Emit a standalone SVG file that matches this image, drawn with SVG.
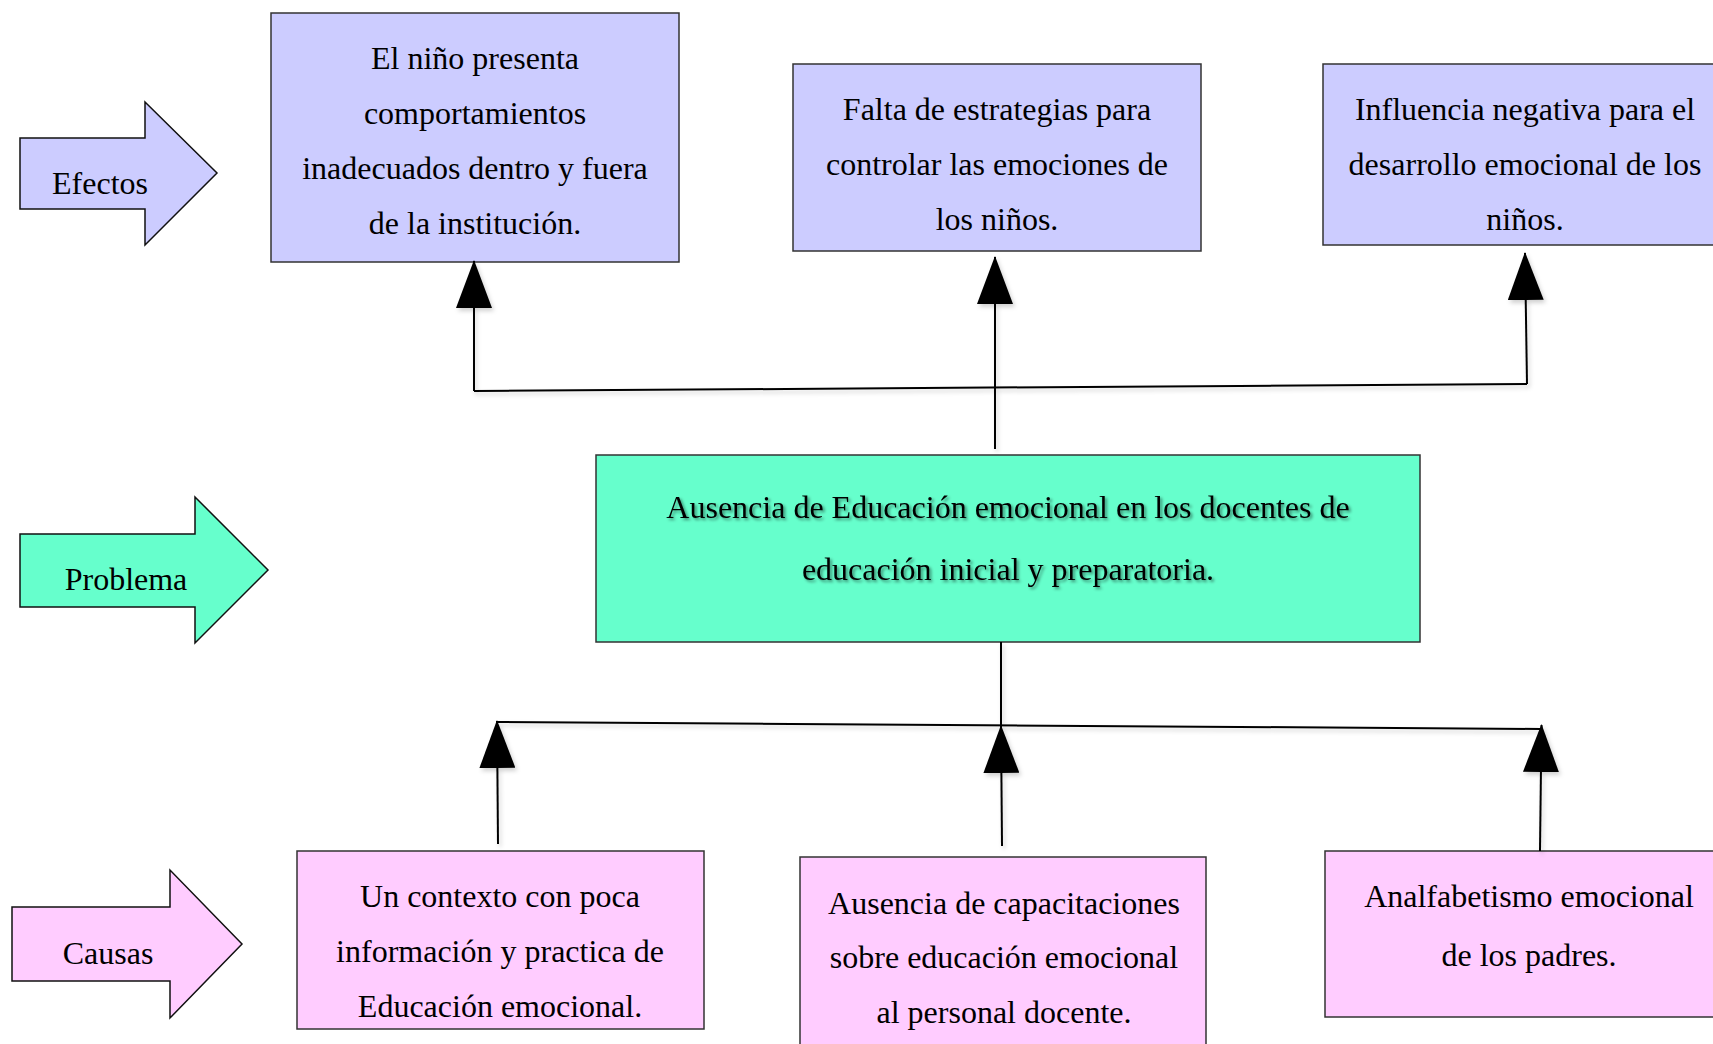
<svg xmlns="http://www.w3.org/2000/svg" width="1713" height="1044" viewBox="0 0 1713 1044">
<style>
  text { font-family: "Liberation Serif", "Times New Roman", serif; font-size: 32px; fill: #000; text-anchor: middle; }
  .box { stroke: #333; stroke-width: 1.5; }
  .ef { fill: #ccccff; }
  .pr { fill: #66ffcc; }
  .ca { fill: #ffccff; }
  .arrowshape { stroke: #111; stroke-width: 1.5; }
  .conn { fill: none; stroke: #000; stroke-width: 2; }
</style>
<defs>
  <filter id="lineShadow" x="-10%" y="-10%" width="120%" height="130%">
    <feDropShadow dx="2" dy="3" stdDeviation="2" flood-color="#000" flood-opacity="0.18"/>
  </filter>
  <filter id="textShadow" x="-5%" y="-20%" width="110%" height="150%">
    <feDropShadow dx="2" dy="2" stdDeviation="1.5" flood-color="#000" flood-opacity="0.45"/>
  </filter>
  <marker id="head" markerUnits="userSpaceOnUse" markerWidth="48" markerHeight="36" viewBox="0 0 48 36" refX="47" refY="18" orient="auto">
    <path d="M0,0 L48,18 L0,36 Z" fill="#000"/>
  </marker>
</defs>

<g id="label-efectos">
  <polygon class="arrowshape ef" points="20,138 145,138 145,102 217,173 145,245 145,209 20,209"/>
  <text x="100" y="194">Efectos</text>
</g>
<g id="label-problema">
  <polygon class="arrowshape pr" points="20,534 195,534 195,497 268,570 195,643 195,607 20,607"/>
  <text x="126" y="590">Problema</text>
</g>
<g id="label-causas">
  <polygon class="arrowshape ca" points="12,907 170,907 170,870 242,944 170,1018 170,981 12,981"/>
  <text x="108" y="964">Causas</text>
</g>

<g id="efecto-1">
  <rect class="box ef" x="271" y="13" width="408" height="249"/>
  <text x="475" y="69">El niño presenta</text>
  <text x="475" y="124">comportamientos</text>
  <text x="475" y="179">inadecuados dentro y fuera</text>
  <text x="475" y="234">de la institución.</text>
</g>
<g id="efecto-2">
  <rect class="box ef" x="793" y="64" width="408" height="187"/>
  <text x="997" y="120">Falta de estrategias para</text>
  <text x="997" y="175">controlar las emociones de</text>
  <text x="997" y="230">los niños.</text>
</g>
<g id="efecto-3">
  <rect class="box ef" x="1323" y="64" width="408" height="181"/>
  <text x="1525" y="120">Influencia negativa para el</text>
  <text x="1525" y="175">desarrollo emocional de los</text>
  <text x="1525" y="230">niños.</text>
</g>

<g id="problema">
  <rect class="box pr" x="596" y="455" width="824" height="187"/>
  <g filter="url(#textShadow)">
    <text x="1008" y="518">Ausencia de Educación emocional en los docentes de</text>
    <text x="1008" y="580">educación inicial y preparatoria.</text>
  </g>
</g>

<g id="causa-1">
  <rect class="box ca" x="297" y="851" width="407" height="178"/>
  <text x="500" y="907">Un contexto con poca</text>
  <text x="500" y="962">información y practica de</text>
  <text x="500" y="1017">Educación emocional.</text>
</g>
<g id="causa-2">
  <rect class="box ca" x="800" y="857" width="406" height="200"/>
  <text x="1004" y="914">Ausencia de capacitaciones</text>
  <text x="1004" y="968">sobre educación emocional</text>
  <text x="1004" y="1023">al personal docente.</text>
</g>
<g id="causa-3">
  <rect class="box ca" x="1325" y="851" width="408" height="166"/>
  <text x="1529" y="907">Analfabetismo emocional</text>
  <text x="1529" y="966">de los padres.</text>
</g>

<g id="connectors" filter="url(#lineShadow)">
  <path class="conn" d="M474,391 L1527,384"/>
  <path class="conn" d="M474,391 L474,261" marker-end="url(#head)"/>
  <path class="conn" d="M1527,384 L1525,253" marker-end="url(#head)"/>
  <path class="conn" d="M995,449 L995,257" marker-end="url(#head)"/>
  <path class="conn" d="M1001,642 L1001,726"/>
  <path class="conn" d="M497,722 L1541,729"/>
  <path class="conn" d="M498,844 L497,721" marker-end="url(#head)"/>
  <path class="conn" d="M1002,846 L1001,726" marker-end="url(#head)"/>
  <path class="conn" d="M1540,851 L1541.5,725" marker-end="url(#head)"/>
</g>
</svg>
